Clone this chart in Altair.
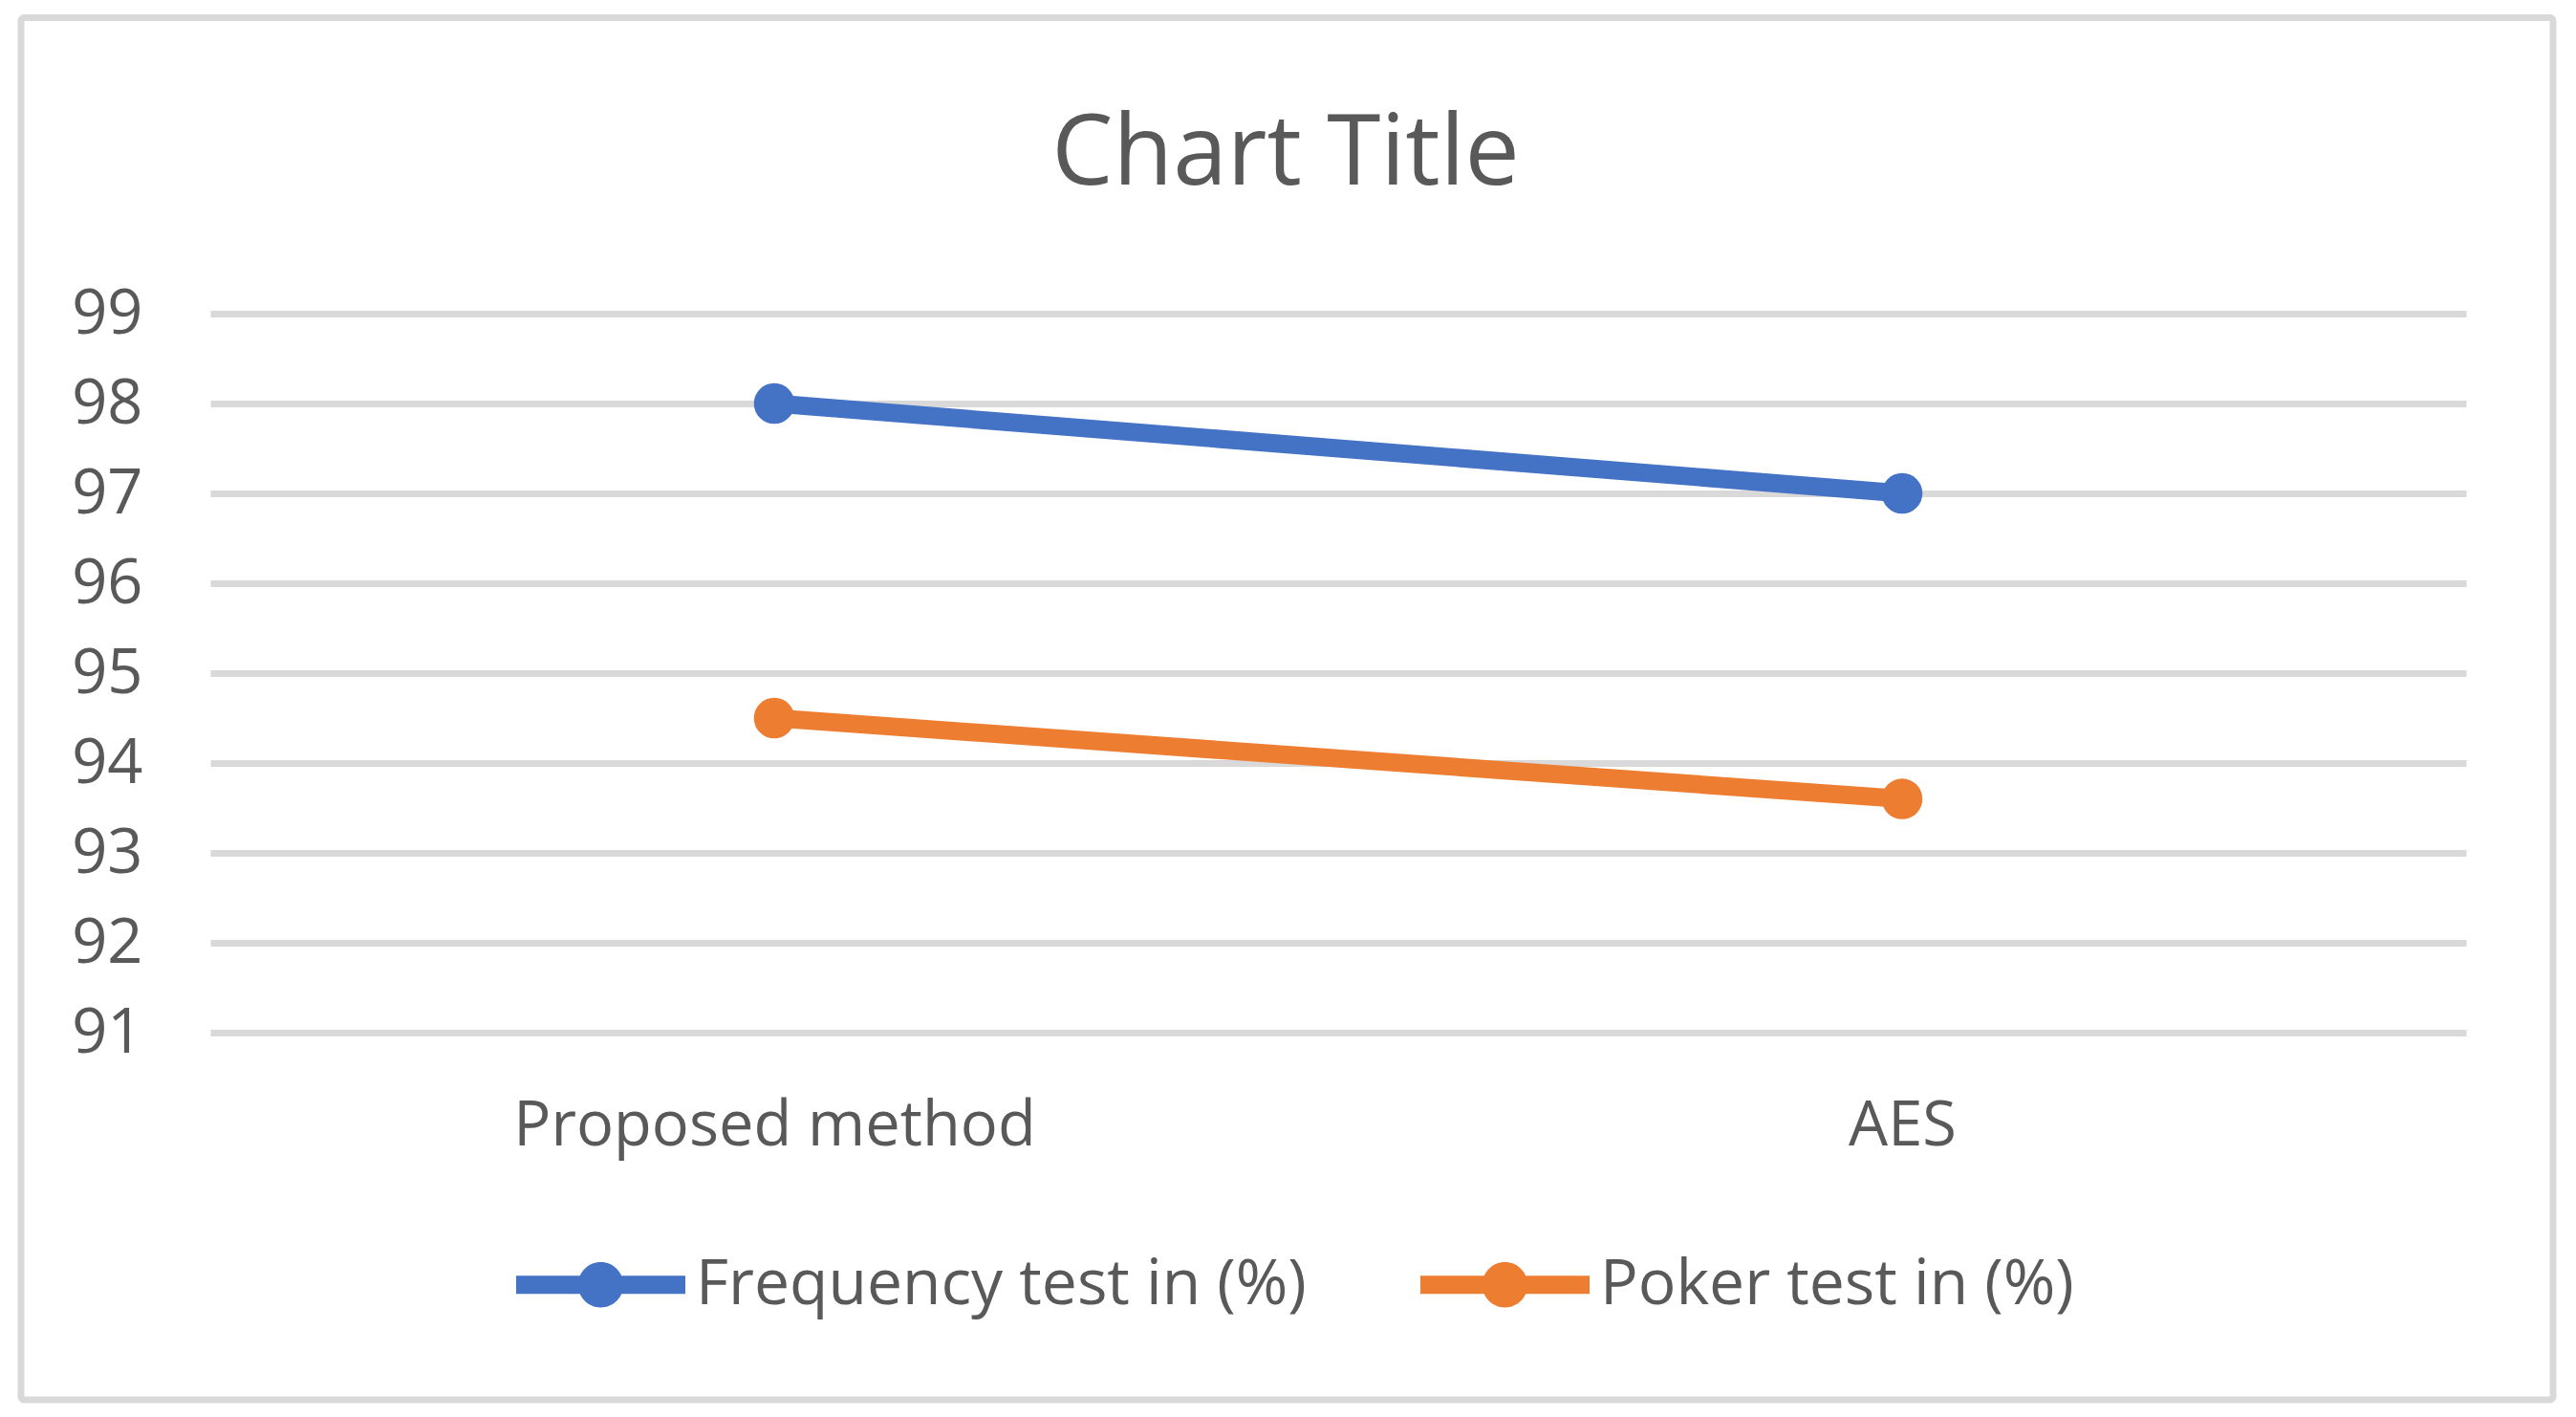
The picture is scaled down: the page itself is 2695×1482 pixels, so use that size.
import altair as alt
import pandas as pd

categories = ["Proposed method", "AES"]
series_names = ["Frequency test in (%)", "Poker test in (%)"]
frequency_values = [98, 97]
poker_values = [94.5, 93.6]
y_ticks = [91, 92, 93, 94, 95, 96, 97, 98, 99]
colors = ["#4472C4", "#ED7D31"]

rows = []
for cat, v in zip(categories, frequency_values):
    rows.append({"Method": cat, "Series": series_names[0], "Value": v})
for cat, v in zip(categories, poker_values):
    rows.append({"Method": cat, "Series": series_names[1], "Value": v})
df = pd.DataFrame(rows)

FONT = "Open Sans"
TXT = "#595959"
GRID = "#D9D9D9"

PW, PH = 2360, 752
PL, PT = 212, 320
PR = 2679 - PL - PW
PB = 1466 - PT - PH

legend_symbol = ("M-1,-0.107 L1,-0.107 L1,0.107 L-1,0.107 Z "
                 "M-0.268,0 A0.268,0.268 0 1,1 0.268,0 A0.268,0.268 0 1,1 -0.268,0 Z")

x_enc = alt.X("Method:N", sort=categories,
              scale=alt.Scale(type="point", padding=0.5),
              axis=alt.Axis(title=None, labelAngle=0, ticks=False, domain=False, grid=False,
                            labelFont=FONT, labelFontSize=65, labelColor=TXT,
                            labelBaseline="alphabetic", labelPadding=117, labelLimit=1000))
y_enc = alt.Y("Value:Q", scale=alt.Scale(domain=[91, 99], nice=False, zero=False),
              axis=alt.Axis(title=None, values=y_ticks, ticks=False, domain=False,
                            grid=True, gridColor=GRID, gridWidth=7,
                            labelFont=FONT, labelFontSize=65, labelColor=TXT,
                            labelPadding=71, labelBaseline="middle"))
color_enc = alt.Color("Series:N", sort=series_names,
                      scale=alt.Scale(domain=series_names, range=colors),
                      legend=alt.Legend(title=None, orient="none", direction="horizontal",
                                        legendX=320, legendY=927,
                                        symbolType=legend_symbol, symbolSize=31329,
                                        symbolStrokeWidth=0, symbolOpacity=1,
                                        labelFont=FONT, labelFontSize=66, labelColor=TXT,
                                        labelOffset=11, labelLimit=1000, columnPadding=119,
                                        padding=0))

border = alt.Chart(pd.DataFrame({"b": [0]})).mark_rect(
    fill="transparent", stroke=GRID, strokeWidth=7, cornerRadius=3
).encode(
    x=alt.value(22 - 220), x2=alt.value(2671 - 220),
    y=alt.value(18.5 - 328), y2=alt.value(1464 - 328)
)

points = alt.Chart(df).mark_circle(size=1810, opacity=1).encode(
    x=x_enc, y=y_enc, color=color_enc
)
lines = alt.Chart(df).mark_line(strokeWidth=19, strokeCap="round").encode(
    x=x_enc, y=y_enc, color=color_enc, detail="Series:N"
)

chart = alt.layer(border, points, lines).properties(
    width=PW, height=PH,
    title=alt.TitleParams("Chart Title", font=FONT, fontSize=102, fontWeight="normal",
                          color=TXT, anchor="middle", dx=-55, dy=280, offset=0,
                          baseline="alphabetic"),
    padding={"left": PL, "top": PT, "right": PR, "bottom": PB},
    autosize=alt.AutoSizeParams(type="none"),
).configure(background="white").configure_view(stroke=None)

chart.save("out.html", embed_options={"renderer": "svg", "actions": False})
